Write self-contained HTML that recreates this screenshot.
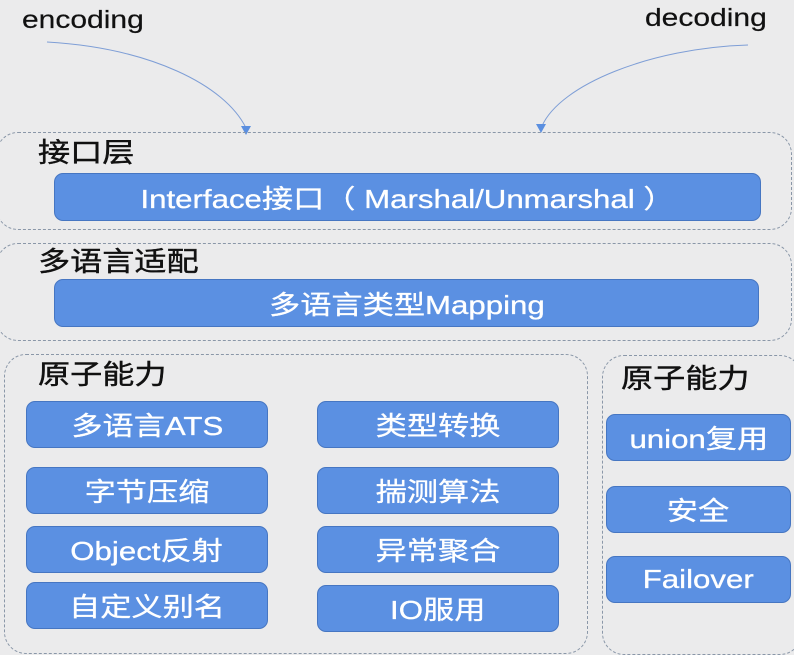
<!DOCTYPE html>
<html><head><meta charset="utf-8"><style>
html,body{margin:0;padding:0;}
body{width:794px;height:642px;background:#ebebec;position:relative;overflow:hidden;font-family:"Liberation Sans","Noto Sans CJK SC",sans-serif;}
.t{position:absolute;color:#111;white-space:nowrap;transform-origin:left center;-webkit-text-stroke:0.4px #111;line-height:1.15;}
.g{position:absolute;border:1.5px dashed #8a97a8;border-radius:22px;box-sizing:border-box;}
.b{position:absolute;background:#5b90e2;border:1.5px solid #4676c2;border-radius:9px;box-sizing:border-box;color:#fff;display:flex;align-items:center;justify-content:center;font-size:26px;white-space:nowrap;}
.b span{display:inline-block;transform:scaleX(1.2);-webkit-text-stroke:0.3px #fff;}
</style></head><body>
<div class="t" style="left:22px;top:6px;font-size:25px;transform:scaleX(1.2);-webkit-text-stroke:0.2px #111;">encoding</div>
<div class="t" style="left:645px;top:4px;font-size:25px;transform:scaleX(1.2);-webkit-text-stroke:0.2px #111;">decoding</div>
<svg style="position:absolute;left:0;top:0" width="794" height="642">
<path d="M47 42 C150 48 225 85 246 128" fill="none" stroke="#7e9ed6" stroke-width="1"/>
<polygon points="241,126 251,126 246,135" fill="#5b8fe0"/>
<path d="M748 45 C650 48 560 85 542 126" fill="none" stroke="#7e9ed6" stroke-width="1"/>
<polygon points="536,124 546,124 541,133" fill="#5b8fe0"/>
</svg>
<div class="g" style="left:-4px;top:132px;width:796px;height:98px;"></div>
<div class="t" style="left:38px;top:138px;font-size:27px;transform:scaleX(1.19);">接口层</div>
<div class="b" style="left:54px;top:173px;width:707px;height:48px;"><span>Interface接口（ Marshal/Unmarshal ）</span></div>
<div class="g" style="left:-4px;top:243px;width:796px;height:98px;"></div>
<div class="t" style="left:38px;top:247px;font-size:27px;transform:scaleX(1.19);">多语言适配</div>
<div class="b" style="left:54px;top:279px;width:705px;height:48px;"><span>多语言类型Mapping</span></div>
<div class="g" style="left:4px;top:354px;width:584px;height:300px;"></div>
<div class="t" style="left:38px;top:360px;font-size:27px;transform:scaleX(1.19);">原子能力</div>
<div class="b" style="left:26px;top:401px;width:242px;height:47px;"><span>多语言ATS</span></div>
<div class="b" style="left:26px;top:467px;width:242px;height:47px;"><span>字节压缩</span></div>
<div class="b" style="left:26px;top:526px;width:242px;height:47px;"><span>Object反射</span></div>
<div class="b" style="left:26px;top:582px;width:242px;height:47px;"><span>自定义别名</span></div>
<div class="b" style="left:317px;top:401px;width:242px;height:47px;"><span>类型转换</span></div>
<div class="b" style="left:317px;top:467px;width:242px;height:47px;"><span>揣测算法</span></div>
<div class="b" style="left:317px;top:526px;width:242px;height:47px;"><span>异常聚合</span></div>
<div class="b" style="left:317px;top:585px;width:242px;height:47px;"><span>IO服用</span></div>
<div class="g" style="left:602px;top:355px;width:200px;height:300px;"></div>
<div class="t" style="left:621px;top:364px;font-size:27px;transform:scaleX(1.19);">原子能力</div>
<div class="b" style="left:606px;top:414px;width:185px;height:47px;"><span>union复用</span></div>
<div class="b" style="left:606px;top:486px;width:185px;height:47px;"><span>安全</span></div>
<div class="b" style="left:606px;top:556px;width:185px;height:47px;"><span>Failover</span></div>
</body></html>
